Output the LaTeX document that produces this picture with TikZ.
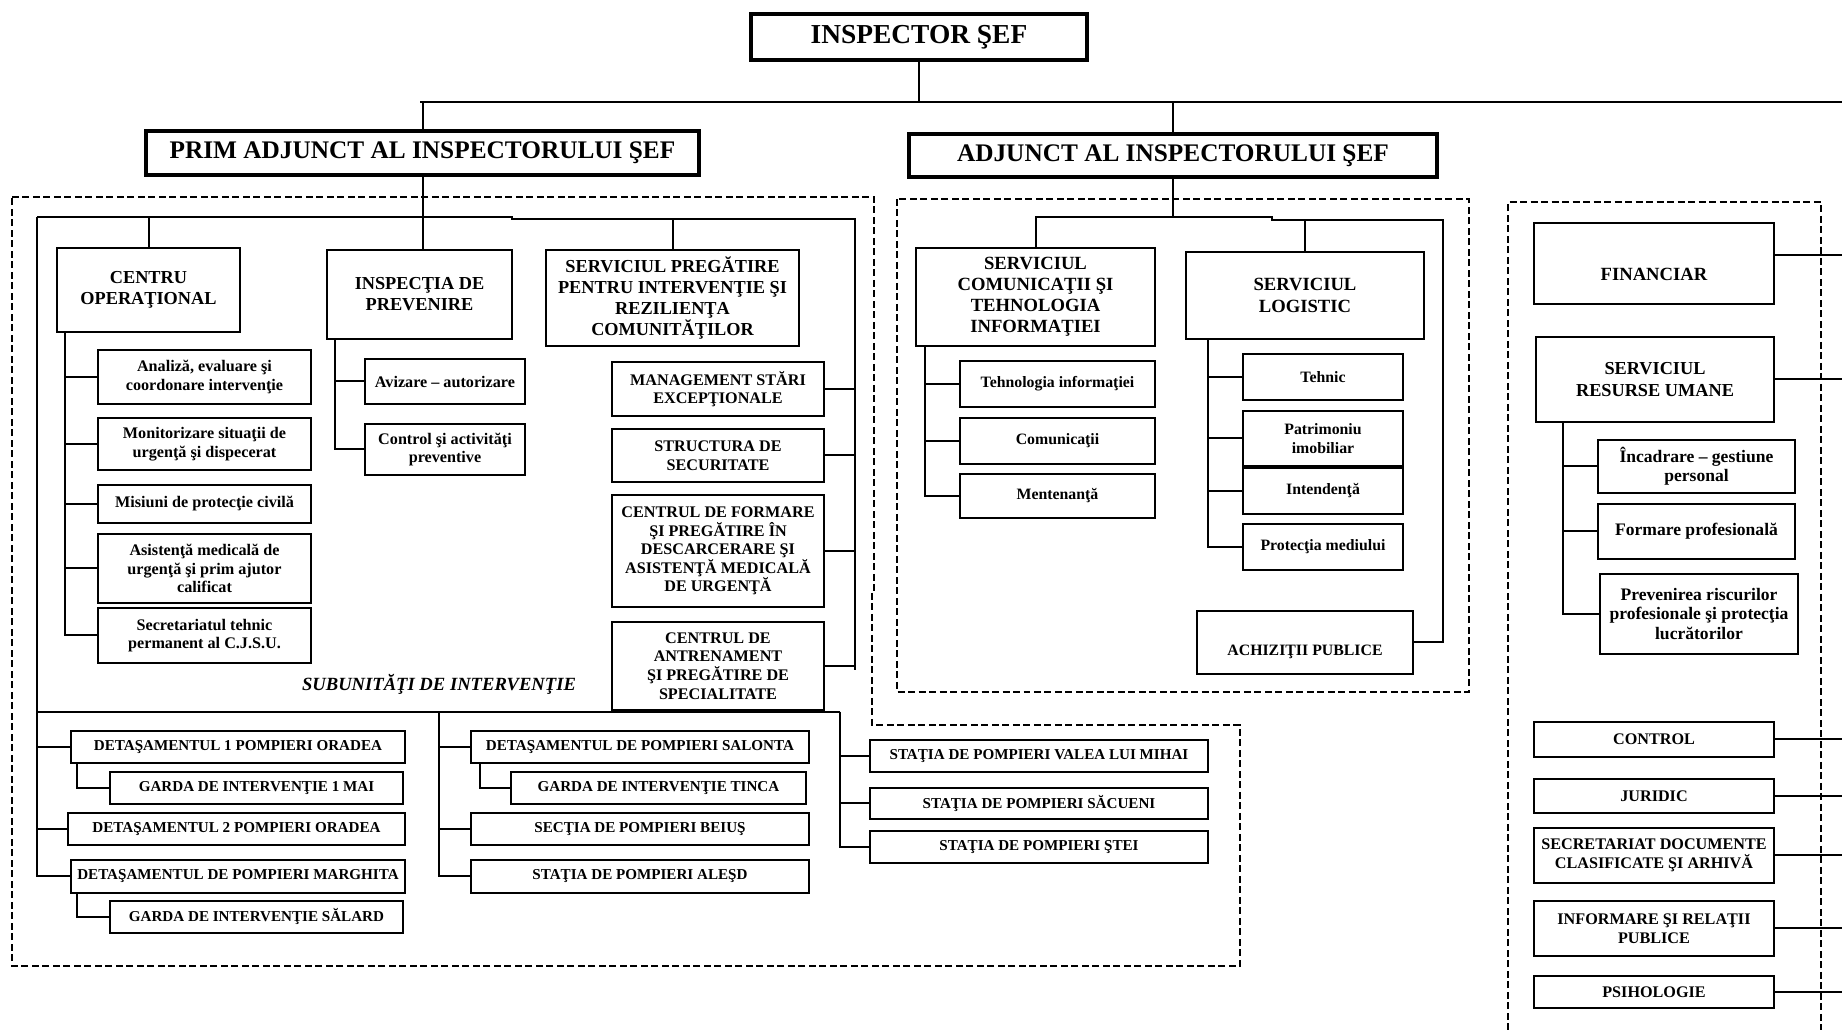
\documentclass[tikz,border=0pt]{standalone}
\usepackage{fontspec}
\setmainfont{Liberation Serif}
\tikzset{
  link/.style={line width=0.2mm},
  zone/.style={line width=0.15mm, dash pattern=on 0.7mm off 0.35mm},
  wh/.style 2 args={minimum width=#1mm, minimum height=#2mm},
  unitbox/.style={draw, line width=0.2mm, align=center, inner sep=0pt, anchor=north west},
  headbox/.style={unitbox, line width=0.4mm, font=\bfseries\fontsize{7.2}{8}\selectfont},
  secbox/.style={unitbox, font=\bfseries\fontsize{5.2}{6}\selectfont},
  itembox/.style={unitbox, font=\bfseries\fontsize{4.6}{5.3}\selectfont},
  stbox/.style={unitbox, font=\bfseries\fontsize{4.3}{5}\selectfont},
}
\begin{document}
\begin{tikzpicture}[x=0.1mm, y=-0.1mm]
\useasboundingbox (0,0) rectangle (1842,1030);

% conducere
\node[headbox, font=\bfseries\fontsize{7.8}{9}\selectfont, wh={33.6}{4.6}] (ins) at (749,12) {INSPECTOR ŞEF};
\node[headbox, wh={55.3}{4.4}] (prim) at (144,129) {PRIM ADJUNCT AL INSPECTORULUI ŞEF};
\node[headbox, wh={52.8}{4.3}] (adj) at (907,132) {ADJUNCT AL INSPECTORULUI ŞEF};
\coordinate (bl) at (420,102);
\coordinate (br) at (1842,102);
\coordinate (edge) at (1842,0);
\draw[link] (ins.south) -- (ins.south |- bl);
\draw[link] (bl) -- (br);
\draw[link] (prim.north) -- (prim.north |- bl);
\draw[link] (adj.north) -- (adj.north |- bl);

% zone
\draw[zone] (12,197) -- (874,197) -- (874,590) -- (872,590) -- (872,725) -- (1240,725) -- (1240,966) -- (12,966) -- cycle;
\draw[zone] (897,199) rectangle (1469,692);
\draw[zone] (1508,1030) -- (1508,202) -- (1821,202) -- (1821,1030);

% prim adjunct
\node[secbox, wh={18.3}{8.4}] (ctr) at (56,247) {CENTRU\\OPERAŢIONAL};
\node[secbox, wh={18.5}{8.9}] (insp) at (326,249) {INSPECŢIA DE\\PREVENIRE};
\node[secbox, wh={25.3}{9.6}] (spr) at (545,249) {SERVICIUL PREGĂTIRE\\PENTRU INTERVENŢIE ŞI\\REZILIENŢA\\COMUNITĂŢILOR};
\node[itembox, wh={21.3}{5.4}] (an) at (97,349) {Analiză, evaluare şi\\coordonare intervenţie};
\node[itembox, wh={21.3}{5.2}] (mo) at (97,417) {Monitorizare situaţii de\\urgenţă şi dispecerat};
\node[itembox, wh={21.3}{3.8}] (mi) at (97,484) {Misiuni de protecţie civilă};
\node[itembox, wh={21.3}{6.9}] (as) at (97,533) {Asistenţă medicală de\\urgenţă şi prim ajutor\\calificat};
\node[itembox, wh={21.3}{5.5}] (se) at (97,607) {Secretariatul tehnic\\permanent al C.J.S.U.};
\node[itembox, wh={16}{4.5}] (av) at (364,358) {Avizare – autorizare};
\node[itembox, wh={16}{5.1}] (co) at (364,423) {Control şi activităţi\\preventive};
\node[itembox, wh={21.2}{5.4}] (ma) at (611,361) {MANAGEMENT STĂRI\\EXCEPŢIONALE};
\node[itembox, wh={21.2}{5.3}] (st) at (611,428) {STRUCTURA DE\\SECURITATE};
\node[itembox, wh={21.2}{11.2}] (cf) at (611,494) {CENTRUL DE FORMARE\\ŞI PREGĂTIRE ÎN\\DESCARCERARE ŞI\\ASISTENŢĂ MEDICALĂ\\DE URGENŢĂ};
\node[itembox, wh={21.2}{8.8}] (ca) at (611,621) {CENTRUL DE\\ANTRENAMENT\\ŞI PREGĂTIRE DE\\SPECIALITATE};
\node[font=\bfseries\itshape\fontsize{5.3}{6}\selectfont, inner sep=0pt] (sub) at (439,684) {SUBUNITĂŢI DE INTERVENŢIE};

\coordinate (p1) at (37,217);
\coordinate (p2) at (512,217);
\coordinate (p3) at (512,219);
\coordinate (p4) at (855,219);
\coordinate (p5) at (855,670);
\draw[link] (prim.south) -- (prim.south |- insp.north);
\draw[link] (p1) -- (p2) -- (p3) -- (p4) -- (p5);
\draw[link] (ctr.north) -- (ctr.north |- p1);
\draw[link] (spr.north) -- (spr.north |- p4);
\draw[link] ([xshift=0.9mm]ctr.south west) |- (an.west);
\draw[link] ([xshift=0.9mm]ctr.south west) |- (mo.west);
\draw[link] ([xshift=0.9mm]ctr.south west) |- (mi.west);
\draw[link] ([xshift=0.9mm]ctr.south west) |- (as.west);
\draw[link] ([xshift=0.9mm]ctr.south west) |- (se.west);
\draw[link] ([xshift=0.9mm]insp.south west) |- (av.west);
\draw[link] ([xshift=0.9mm]insp.south west) |- (co.west);
\draw[link] (ma.east) -- (ma.east -| p4);
\draw[link] (st.east) -- (st.east -| p4);
\draw[link] (cf.east) -- (cf.east -| p4);
\draw[link] (ca.east) -- (ca.east -| p4);

% subunitati
\node[stbox, wh={33.4}{3.2}] (d1) at (70,730) {DETAŞAMENTUL 1 POMPIERI ORADEA};
\node[stbox, wh={29.3}{3.2}] (g1) at (109,771) {GARDA DE INTERVENŢIE 1 MAI};
\node[stbox, wh={33.7}{3.2}] (d2) at (67,812) {DETAŞAMENTUL 2 POMPIERI ORADEA};
\node[stbox, wh={33.4}{3.3}] (dm) at (70,859) {DETAŞAMENTUL DE POMPIERI MARGHITA};
\node[stbox, wh={29.3}{3.2}] (gs) at (109,900) {GARDA DE INTERVENŢIE SĂLARD};
\node[stbox, wh={33.8}{3.2}] (ds) at (470,730) {DETAŞAMENTUL DE POMPIERI SALONTA};
\node[stbox, wh={29.5}{3.2}] (gt) at (510,771) {GARDA DE INTERVENŢIE TINCA};
\node[stbox, wh={33.8}{3.2}] (sb) at (470,812) {SECŢIA DE POMPIERI BEIUŞ};
\node[stbox, wh={33.8}{3.3}] (sa) at (470,859) {STAŢIA DE POMPIERI ALEŞD};
\node[stbox, wh={33.8}{3.2}] (vm) at (869,739) {STAŢIA DE POMPIERI VALEA LUI MIHAI};
\node[stbox, wh={33.8}{3.1}] (sc) at (869,787) {STAŢIA DE POMPIERI SĂCUENI};
\node[stbox, wh={33.8}{3.2}] (sj) at (869,830) {STAŢIA DE POMPIERI ŞTEI};

\coordinate (q1) at (37,712);
\coordinate (q2) at (840,712);
\coordinate (q3) at (439,712);
\draw[link] (q1) -- (q2);
\draw[link] (p1) |- (d1.west);
\draw[link] (p1) |- (d2.west);
\draw[link] (p1) |- (dm.west);
\draw[link] ([xshift=0.7mm]d1.south west) |- (g1.west);
\draw[link] ([xshift=0.7mm]dm.south west) |- (gs.west);
\draw[link] (q3) |- (ds.west);
\draw[link] (q3) |- (sb.west);
\draw[link] (q3) |- (sa.west);
\draw[link] ([xshift=1mm]ds.south west) |- (gt.west);
\draw[link] (q2) |- (vm.west);
\draw[link] (q2) |- (sc.west);
\draw[link] (q2) |- (sj.west);

% adjunct
\node[secbox, font=\bfseries\fontsize{5.3}{6}\selectfont, wh={23.9}{9.8}] (com) at (915,247) {SERVICIUL\\COMUNICAŢII ŞI\\TEHNOLOGIA\\INFORMAŢIEI};
\node[secbox, font=\bfseries\fontsize{5.3}{6.2}\selectfont, wh={23.8}{8.7}] (log) at (1185,251) {SERVICIUL\\LOGISTIC};
\node[itembox, font=\bfseries\fontsize{4.5}{5.2}\selectfont, wh={19.5}{4.6}] (ti) at (959,360) {Tehnologia informaţiei};
\node[itembox, font=\bfseries\fontsize{4.5}{5.2}\selectfont, wh={19.5}{4.6}] (cm) at (959,417) {Comunicaţii};
\node[itembox, font=\bfseries\fontsize{4.5}{5.2}\selectfont, wh={19.5}{4.4}] (mt) at (959,473) {Mentenanţă};
\node[itembox, font=\bfseries\fontsize{4.5}{5.2}\selectfont, wh={16}{4.6}] (te) at (1242,353) {Tehnic};
\node[itembox, font=\bfseries\fontsize{4.5}{5.2}\selectfont, wh={16}{5.5}] (pa) at (1242,410) {Patrimoniu\\imobiliar};
\node[itembox, font=\bfseries\fontsize{4.5}{5.2}\selectfont, wh={16}{4.6}] (ind) at (1242,467) {Intendenţă};
\node[itembox, font=\bfseries\fontsize{4.5}{5.2}\selectfont, wh={16}{4.6}] (pm) at (1242,523) {Protecţia mediului};
\node[itembox, font=\bfseries\fontsize{4.5}{5.2}\selectfont, text height=7.2pt, text depth=0pt, wh={21.6}{6.3}] (acq) at (1196,610) {ACHIZIŢII PUBLICE};

\coordinate (a2) at (1272,217);
\coordinate (a3) at (1272,220);
\coordinate (a4) at (1443,220);
\draw[link] (adj.south) -- (adj.south |- a2);
\draw[link] (com.north) |- (a2) -- (a3) -- (a4) |- (acq.east);
\draw[link] (log.north) -- (log.north |- a4);
\draw[link] ([xshift=1mm]com.south west) |- (ti.west);
\draw[link] ([xshift=1mm]com.south west) |- (cm.west);
\draw[link] ([xshift=1mm]com.south west) |- (mt.west);
\draw[link] ([xshift=2.3mm]log.south west) |- (te.west);
\draw[link] ([xshift=2.3mm]log.south west) |- (pa.west);
\draw[link] ([xshift=2.3mm]log.south west) |- (ind.west);
\draw[link] ([xshift=2.3mm]log.south west) |- (pm.west);

% inspector sef direct
\node[secbox, font=\bfseries\fontsize{5.3}{6}\selectfont, text height=9.5pt, text depth=0pt, wh={24}{8.1}] (fi) at (1533,222) {FINANCIAR};
\node[secbox, wh={23.8}{8.5}] (ru) at (1535,336) {SERVICIUL\\RESURSE UMANE};
\node[itembox, font=\bfseries\fontsize{5}{5.3}\selectfont, wh={19.7}{5.3}] (ig) at (1597,439) {Încadrare – gestiune\\personal};
\node[itembox, font=\bfseries\fontsize{5}{5.3}\selectfont, wh={19.7}{5.5}] (fp) at (1597,503) {Formare profesională};
\node[itembox, font=\bfseries\fontsize{5}{5.5}\selectfont, wh={19.8}{8}] (pr) at (1599,573) {Prevenirea riscurilor\\profesionale şi protecţia\\lucrătorilor};
\node[itembox, wh={24}{3.5}] (ct) at (1533,721) {CONTROL};
\node[itembox, wh={24}{3.4}] (ju) at (1533,778) {JURIDIC};
\node[itembox, wh={24}{5.5}] (sd) at (1533,827) {SECRETARIAT DOCUMENTE\\CLASIFICATE ŞI ARHIVĂ};
\node[itembox, wh={24}{5.5}] (ir) at (1533,900) {INFORMARE ŞI RELAŢII\\PUBLICE};
\node[itembox, wh={24}{3.2}] (ps) at (1533,975) {PSIHOLOGIE};

\draw[link] ([yshift=0.8mm]fi.east) -- ([yshift=0.8mm]fi.east -| edge);
\draw[link] (ru.east) -- (ru.east -| edge);
\draw[link] ([xshift=2.8mm]ru.south west) |- (ig.west);
\draw[link] ([xshift=2.8mm]ru.south west) |- (fp.west);
\draw[link] ([xshift=2.8mm]ru.south west) |- (pr.west);
\draw[link] (ct.east) -- (ct.east -| edge);
\draw[link] (ju.east) -- (ju.east -| edge);
\draw[link] (sd.east) -- (sd.east -| edge);
\draw[link] (ir.east) -- (ir.east -| edge);
\draw[link] (ps.east) -- (ps.east -| edge);
\end{tikzpicture}
\end{document}
